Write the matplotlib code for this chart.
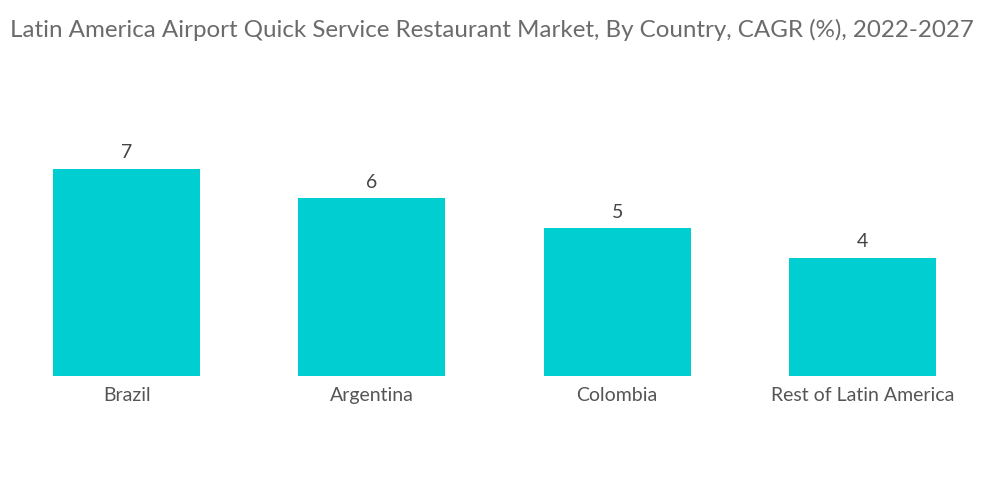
import matplotlib
matplotlib.use("Agg")
import numpy as np
import matplotlib.pyplot as plt

plt.rcParams['font.family'] = ['Lato', 'DejaVu Sans']

countries = ['Brazil', 'Argentina', 'Colombia', 'Rest of Latin America']
cagr = [7, 6, 5, 4]

fig = plt.figure(figsize=(10, 5.04), dpi=100, facecolor='w')
ax = fig.add_axes([0.004, 0.254, 0.981, 0.47])

index = np.arange(len(countries))
ax.bar(index, cagr, 0.6, color='#00CED1')

for i, v in zip(index, cagr):
    ax.text(i, v + 0.25, str(v), ha='center', va='bottom',
            fontsize=14, color='#444444')

ax.set_xlim(-0.5, len(countries) - 0.5)
ax.set_ylim(0, 8)
ax.set_xticks(index)
ax.set_xticklabels(countries, fontsize=14, color='#555555')
ax.tick_params(axis='x', length=0, pad=8)
ax.set_yticks([])
for s in ax.spines.values():
    s.set_visible(False)

fig.text(0.01, 0.94, 'Latin America Airport Quick Service Restaurant Market, By Country, CAGR (%), 2022-2027',
         fontsize=17.4, color='#6b6b6b', ha='left', va='center')

plt.savefig('out.png', dpi=100)
